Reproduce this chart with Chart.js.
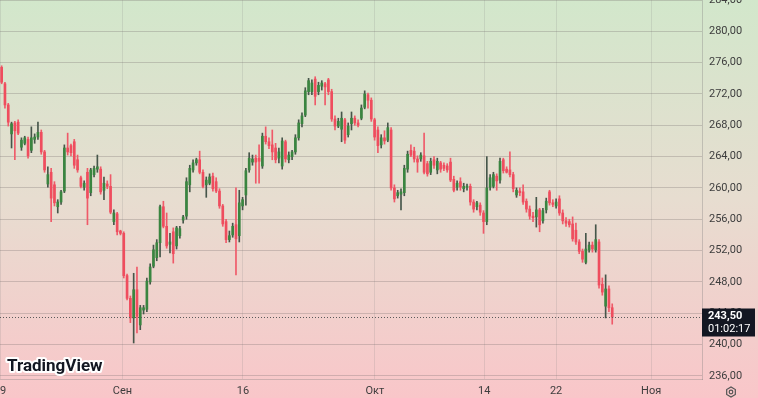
<!DOCTYPE html>
<html>
<head>
<meta charset="utf-8">
<script src="https://cdn.jsdelivr.net/npm/chart.js@4"></script>
<style>
  html, body { margin: 0; padding: 0; background: #e7ddd0; }
  #wrap { width: 758px; height: 398px; position: relative; }
</style>
</head>
<body>
<div id="wrap"><canvas id="chart"></canvas></div>
<script>
// OHLC по свечам (слева направо)
const openPrices = [
  275.4, 273.3, 270.6, 266.9, 268.3, 268.4, 265.2, 265.7, 266.2, 264.8,
  266.2, 266.5, 267.1, 264.6, 260.5, 262.0, 260.4, 257.6, 258.2, 259.6,
  265.1, 265.4, 265.9, 263.6, 261.3, 260.1, 262.0, 259.4, 261.7, 262.4,
  262.4, 259.7, 260.5, 260.2, 255.7, 256.7, 254.5, 254.2, 248.8, 245.9,
  243.4, 247.0, 242.5, 244.4, 244.5, 248.0, 250.0, 251.1, 253.0, 257.6,
  255.1, 252.8, 254.4, 252.6, 253.9, 255.9, 256.4, 260.4, 262.3, 263.2,
  263.6, 262.0, 260.4, 260.6, 261.5, 260.8, 259.6, 257.7, 255.7, 253.4,
  254.0, 255.3, 253.9, 257.7, 259.1, 262.3, 263.3, 263.8, 263.8, 262.8,
  266.6, 265.9, 265.5, 265.1, 263.8, 262.8, 265.9, 263.6, 264.0, 264.6,
  266.4, 268.2, 269.3, 272.3, 272.3, 273.9, 272.3, 273.0, 273.3, 273.8,
  272.3, 268.8, 267.9, 267.5, 268.7, 266.8, 268.2, 268.9, 268.3, 268.9,
  270.3, 271.9, 271.2, 268.7, 267.4, 265.5, 266.4, 266.1, 267.4, 260.0,
  259.0, 259.2, 259.4, 262.4, 264.8, 264.7, 263.7, 263.7, 264.1, 263.1,
  262.0, 263.6, 262.3, 263.2, 262.9, 262.8, 263.3, 261.1, 260.1, 260.8,
  259.9, 260.1, 260.2, 258.2, 257.6, 257.8, 256.8, 255.7, 260.1, 260.2,
  261.5, 261.0, 263.6, 262.4, 262.3, 261.7, 259.1, 259.6, 259.5, 258.3,
  257.3, 256.4, 256.3, 257.2, 255.8, 257.2, 259.5, 258.1, 257.7, 258.6,
  256.8, 255.8, 255.7, 255.4, 254.6, 253.1, 251.9, 250.5, 252.1, 252.7,
  252.1, 253.1, 247.7, 244.9, 247.1, 244.7
];
const highPrices = [
  275.6, 273.5, 270.8, 268.4, 268.5, 268.7, 266.4, 266.6, 266.5, 267.8,
  266.9, 268.4, 267.4, 264.8, 262.7, 262.5, 260.8, 258.5, 259.7, 265.5,
  267.0, 265.6, 266.2, 264.2, 261.5, 260.9, 262.5, 262.5, 262.8, 264.2,
  262.7, 261.4, 260.9, 261.7, 257.2, 256.9, 254.6, 254.4, 249.0, 246.2,
  249.1, 249.9, 245.0, 245.0, 248.5, 250.3, 252.7, 253.4, 257.8, 258.3,
  256.8, 254.2, 254.9, 255.1, 255.1, 256.5, 261.3, 262.9, 263.6, 263.8,
  264.7, 262.3, 261.4, 261.8, 261.9, 261.3, 259.9, 257.9, 256.0, 254.5,
  255.5, 260.0, 259.7, 258.8, 262.5, 264.5, 264.2, 264.2, 265.5, 267.0,
  267.8, 266.4, 267.4, 265.7, 265.1, 266.4, 266.1, 264.6, 264.8, 266.8,
  268.7, 269.6, 272.8, 274.0, 273.8, 274.2, 273.5, 273.7, 273.5, 274.0,
  272.6, 269.2, 268.9, 269.7, 268.9, 268.3, 269.7, 269.2, 268.7, 270.6,
  272.4, 272.1, 271.5, 268.9, 267.8, 266.8, 267.3, 268.3, 267.7, 260.4,
  259.7, 259.9, 262.9, 264.7, 265.5, 265.2, 264.1, 264.5, 267.0, 263.4,
  263.8, 264.0, 263.8, 263.4, 263.2, 263.1, 263.8, 261.5, 260.9, 261.3,
  260.6, 260.5, 260.5, 258.5, 258.3, 258.1, 257.1, 264.0, 261.7, 262.0,
  261.8, 263.8, 263.8, 262.7, 264.6, 262.0, 260.0, 260.0, 260.4, 258.6,
  257.7, 256.9, 258.8, 257.4, 257.4, 258.7, 259.7, 258.5, 258.6, 259.0,
  257.2, 256.2, 256.0, 256.3, 255.5, 253.4, 252.2, 254.2, 253.1, 253.1,
  255.3, 253.4, 248.5, 248.9, 247.5, 245.2
];
const lowPrices = [
  273.3, 270.2, 267.9, 265.1, 263.6, 266.8, 264.8, 265.5, 263.8, 264.5,
  265.7, 266.2, 264.3, 262.0, 260.1, 255.7, 257.7, 256.8, 257.9, 259.4,
  264.2, 264.1, 262.5, 262.0, 260.0, 259.7, 255.3, 259.0, 261.4, 262.0,
  259.2, 258.5, 259.9, 256.7, 255.3, 254.0, 254.0, 248.5, 245.7, 242.8,
  240.2, 241.5, 241.9, 243.9, 244.2, 247.7, 249.8, 250.7, 251.2, 254.9,
  252.3, 251.7, 250.4, 252.2, 253.6, 255.5, 256.0, 259.5, 262.0, 262.9,
  261.8, 260.0, 258.8, 260.4, 259.6, 259.4, 257.4, 255.1, 253.0, 253.1,
  253.7, 248.9, 253.1, 257.2, 257.8, 262.0, 262.9, 260.6, 260.6, 262.5,
  265.6, 265.0, 263.6, 263.2, 263.2, 262.4, 263.3, 263.2, 263.6, 264.3,
  266.1, 267.8, 269.1, 271.9, 271.9, 270.6, 271.9, 272.5, 270.6, 271.9,
  268.5, 267.4, 267.7, 265.9, 265.7, 266.5, 267.4, 268.0, 267.8, 268.7,
  270.1, 270.2, 268.5, 266.1, 264.5, 265.1, 265.6, 265.9, 259.7, 258.2,
  258.7, 257.2, 259.0, 262.0, 264.0, 263.3, 262.0, 263.4, 261.8, 261.5,
  261.7, 262.5, 261.8, 262.0, 262.2, 262.0, 260.8, 259.5, 259.7, 259.7,
  259.5, 259.7, 257.8, 256.9, 257.2, 256.5, 254.2, 255.3, 259.7, 260.0,
  259.7, 260.6, 261.9, 261.9, 261.4, 259.5, 258.8, 259.0, 257.9, 256.9,
  256.0, 255.7, 255.0, 254.4, 255.5, 256.8, 257.8, 257.6, 257.4, 256.5,
  255.4, 255.1, 255.0, 253.2, 252.8, 251.6, 250.5, 250.3, 251.8, 251.8,
  251.8, 247.2, 246.3, 243.4, 244.2, 242.6
];
const closePrices = [
  273.5, 270.6, 268.4, 268.2, 267.3, 267.0, 266.1, 266.4, 264.1, 266.4,
  266.5, 267.1, 264.6, 262.3, 261.7, 258.7, 258.1, 258.2, 259.5, 265.1,
  264.6, 264.5, 262.9, 262.3, 260.2, 260.6, 258.7, 262.3, 262.5, 262.7,
  259.5, 260.6, 260.2, 256.9, 256.8, 254.4, 254.2, 248.8, 245.9, 243.4,
  247.0, 243.6, 244.7, 244.7, 248.1, 249.9, 252.1, 253.0, 257.6, 255.1,
  252.6, 253.1, 251.6, 254.9, 254.8, 256.3, 260.8, 262.5, 263.2, 263.6,
  262.0, 260.2, 261.0, 261.4, 259.9, 259.6, 257.7, 255.4, 253.4, 253.9,
  255.1, 253.5, 258.1, 258.5, 262.2, 263.8, 263.7, 263.3, 263.4, 266.6,
  265.9, 265.4, 264.6, 263.6, 264.6, 266.0, 263.7, 264.2, 264.6, 266.4,
  268.3, 269.2, 272.4, 273.7, 273.4, 271.7, 273.1, 273.4, 272.9, 272.3,
  268.8, 267.9, 268.5, 268.9, 266.1, 267.9, 268.9, 268.3, 268.0, 270.2,
  272.0, 271.2, 268.8, 266.5, 265.4, 266.4, 266.0, 267.7, 260.0, 258.6,
  259.4, 259.5, 262.5, 264.3, 264.2, 263.7, 263.3, 264.2, 262.0, 261.8,
  263.4, 262.9, 263.4, 262.4, 262.5, 262.3, 261.0, 259.7, 260.6, 260.1,
  260.2, 260.2, 258.2, 257.3, 258.1, 256.9, 255.7, 260.0, 261.3, 261.7,
  260.9, 263.4, 262.2, 262.0, 261.7, 259.9, 259.7, 259.4, 258.2, 257.3,
  256.4, 256.2, 257.2, 255.3, 257.1, 258.3, 258.1, 257.9, 258.2, 256.8,
  255.8, 255.5, 255.3, 253.5, 253.1, 251.9, 250.9, 252.2, 252.7, 252.2,
  253.4, 247.6, 246.7, 247.1, 244.7, 243.5
];

// подписи оси времени (позиция = номер свечи)
const xTickPos = [-0.5, 36.6, 73.1, 113.1, 146.2, 168, 196.8];
const xTickLabels = ['19', 'Сен', '16', 'Окт', '14', '22', 'Ноя'];
// шкала цены
const yTicks = [236, 240, 244, 248, 252, 256, 260, 264, 268, 272, 276, 280, 284];
const lastPrice = 243.50;
const countdown = '01:02:17';

const UP = '#3a8540', UP_WICK = '#46564a';
const DOWN = '#ef4d5e', DOWN_WICK = '#ef5a69';

const idx = openPrices.map((_, i) => i);
const isUp = idx.map(i => closePrices[i] >= openPrices[i]);
const fmt = v => v.toFixed(2).replace('.', ',');

const tvPlugin = {
    id: 'tvDecor',
    beforeDraw(chart) {
        const { ctx, width, height } = chart;
        const g = ctx.createLinearGradient(0, 0, 0, height);
        g.addColorStop(0, '#d2e7cb');
        g.addColorStop(0.5, '#e7ddd0');
        g.addColorStop(1, '#f9c6c9');
        ctx.save();
        ctx.fillStyle = g;
        ctx.fillRect(0, 0, width, height);
        ctx.restore();
    },
    afterDraw(chart) {
        const { ctx, chartArea } = chart;
        const y = Math.round(chart.scales.y.getPixelForValue(lastPrice)) + 0.5;
        ctx.save();
        // пунктир последней цены
        ctx.strokeStyle = '#5a5a5a';
        ctx.lineWidth = 1;
        ctx.setLineDash([1, 2]);
        ctx.beginPath();
        ctx.moveTo(chartArea.left, y);
        ctx.lineTo(chartArea.right, y);
        ctx.stroke();
        ctx.setLineDash([]);
        // плашка цены
        ctx.fillStyle = '#131722';
        ctx.fillRect(chartArea.right, y - 9, 53, 28);
        ctx.fillStyle = '#ffffff';
        ctx.textBaseline = 'middle';
        ctx.textAlign = 'left';
        ctx.font = 'bold 11px Roboto';
        ctx.fillText(fmt(lastPrice), chartArea.right + 6, y - 1);
        ctx.font = '11px Roboto';
        ctx.fillText(countdown, chartArea.right + 6, y + 12);
        // значок настроек
        ctx.strokeStyle = '#555';
        ctx.lineWidth = 1.2;
        ctx.beginPath();
        for (let a = 0; a < 6; a++) {
            const ang = Math.PI / 6 + a * Math.PI / 3;
            const px = 731 + 5 * Math.cos(ang), py = 392 + 5 * Math.sin(ang);
            a ? ctx.lineTo(px, py) : ctx.moveTo(px, py);
        }
        ctx.closePath();
        ctx.stroke();
        ctx.beginPath();
        ctx.arc(731, 392, 1.8, 0, Math.PI * 2);
        ctx.stroke();
        // логотип
        ctx.font = 'bold 17px Roboto';
        ctx.textBaseline = 'alphabetic';
        ctx.lineJoin = 'round';
        ctx.lineWidth = 4;
        ctx.strokeStyle = '#ffffff';
        ctx.strokeText('TradingView', 7, 371);
        ctx.fillStyle = '#131722';
        ctx.fillText('TradingView', 7, 371);
        ctx.restore();
    }
};

new Chart(document.getElementById('chart'), {
    type: 'bar',
    data: {
        datasets: [
            {
                label: 'wick',
                data: idx.map(i => ({ x: i, y: [lowPrices[i], highPrices[i]] })),
                backgroundColor: idx.map(i => isUp[i] ? UP_WICK : DOWN_WICK),
                barThickness: 1,
                grouped: false,
                order: 2
            },
            {
                label: 'body',
                data: idx.map(i => ({ x: i, y: [openPrices[i], closePrices[i]] })),
                backgroundColor: idx.map(i => isUp[i] ? UP : DOWN),
                barThickness: 2,
                minBarLength: 1,
                grouped: false,
                order: 1
            }
        ]
    },
    options: {
        responsive: true,
        maintainAspectRatio: false,
        animation: false,
        layout: { padding: 0 },
        plugins: { legend: { display: false }, tooltip: { enabled: false } },
        scales: {
            x: {
                type: 'linear',
                min: -0.5,
                max: 212.2,
                offset: false,
                afterBuildTicks: s => { s.ticks = xTickPos.map(v => ({ value: v })); },
                afterFit: s => { s.height = 19; s.paddingLeft = 0; s.paddingRight = 0; },
                ticks: {
                    autoSkip: false,
                    maxRotation: 0,
                    padding: 6,
                    color: '#3d3d3d',
                    font: { family: 'Roboto', size: 11 },
                    callback: (v, i) => xTickLabels[i]
                },
                grid: { offset: false, color: 'rgba(130,125,125,0.18)', drawTicks: false },
                border: { color: 'rgba(130,125,125,0.35)' }
            },
            y: {
                position: 'right',
                min: 235.6,
                max: 284,
                afterBuildTicks: s => { s.ticks = yTicks.map(v => ({ value: v })); },
                afterFit: s => { s.width = 56; s.paddingTop = 0; s.paddingBottom = 0; },
                ticks: {
                    padding: 7,
                    color: '#3d3d3d',
                    font: { family: 'Roboto', size: 11 },
                    callback: v => fmt(v)
                },
                grid: { color: 'rgba(120,110,110,0.3)', drawTicks: false },
                border: { color: 'rgba(130,125,125,0.35)' }
            }
        }
    },
    plugins: [tvPlugin]
});
</script>
</body>
</html>
